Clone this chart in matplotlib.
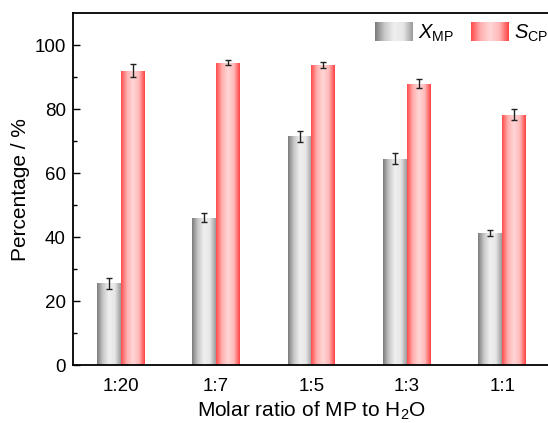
import matplotlib
matplotlib.use("Agg")
import matplotlib.pyplot as plt
import numpy as np
from matplotlib.colors import LinearSegmentedColormap

plt.rcParams['font.family'] = ['Liberation Sans', 'DejaVu Sans']
plt.rcParams['mathtext.fontset'] = 'custom'
plt.rcParams['mathtext.rm'] = 'Liberation Sans'
plt.rcParams['mathtext.it'] = 'Liberation Sans:italic'

ratios = ['1:20', '1:7', '1:5', '1:3', '1:1']
x_mp = [25.5, 46.0, 71.5, 64.5, 41.2]
x_mp_err = [1.8, 1.4, 1.8, 1.8, 0.9]
s_cp = [92.0, 94.5, 93.8, 88.0, 78.3]
s_cp_err = [2.0, 0.8, 0.8, 1.3, 1.8]

# horizontal shading for the bars
gray_cmap = LinearSegmentedColormap.from_list(
    'g', ['#7a7a7a', '#c8c8c8', '#efefef', '#e6e6e6', '#9a9a9a'])
red_cmap = LinearSegmentedColormap.from_list(
    'r', ['#ff4a4a', '#ffb0b0', '#ffd6d6', '#ffb8b8', '#ff4040'])
grad = np.linspace(0, 1, 256).reshape(1, -1)

fig = plt.figure(figsize=(5.48, 4.23), dpi=100)
ax = fig.add_axes([0.133, 0.137, 0.8706, 0.832])

x = np.arange(len(ratios))
w = 0.25


def shaded_bars(xpos, heights, cmap):
    bars = ax.bar(xpos, heights, w, facecolor='none', edgecolor='none')
    for b in bars:
        im = ax.imshow(grad, cmap=cmap, aspect='auto', interpolation='bilinear',
                       extent=[b.get_x(), b.get_x() + b.get_width(),
                               0, b.get_height()], zorder=1)
        im.set_clip_path(b)
    return bars


shaded_bars(x - w / 2, x_mp, gray_cmap)
shaded_bars(x + w / 2, s_cp, red_cmap)
ax.errorbar(x - w / 2, x_mp, yerr=x_mp_err, fmt='none', ecolor='#222222',
            elinewidth=1, capsize=2.5, capthick=1, zorder=3)
ax.errorbar(x + w / 2, s_cp, yerr=s_cp_err, fmt='none', ecolor='#222222',
            elinewidth=1, capsize=2.5, capthick=1, zorder=3)

ax.set_xlim(-0.5, 4.5)
ax.set_ylim(0, 110)
ax.set_xticks(x)
ax.set_xticklabels(ratios)
ax.set_yticks([0, 20, 40, 60, 80, 100])
ax.set_yticks(np.arange(10, 110, 20), minor=True)
ax.tick_params(axis='y', which='major', direction='in', length=5, width=1,
               labelsize=13.5, pad=5)
ax.tick_params(axis='y', which='minor', direction='in', length=3, width=1)
ax.tick_params(axis='x', length=0, labelsize=13.5, pad=9)
for s in ax.spines.values():
    s.set_linewidth(1.3)
ax.set_ylabel('Percentage / %', fontsize=15, labelpad=3)
ax.set_xlabel('Molar ratio of MP to H$_2$O', fontsize=15, labelpad=4)

# legend drawn by hand so the swatches keep their shading
for x0, cmap, lab in [(375, gray_cmap, r'$X_{\mathrm{MP}}$'),
                      (471, red_cmap, r'$S_{\mathrm{CP}}$')]:
    sw = fig.add_axes([x0 / 548, 1 - 41 / 423, 38 / 548, 19 / 423])
    sw.imshow(grad, cmap=cmap, aspect='auto', interpolation='bilinear')
    sw.axis('off')
    fig.text((x0 + 43) / 548, 1 - 33 / 423, lab, fontsize=14.5, va='center',
             ha='left')

fig.savefig('out.png', dpi=100)
